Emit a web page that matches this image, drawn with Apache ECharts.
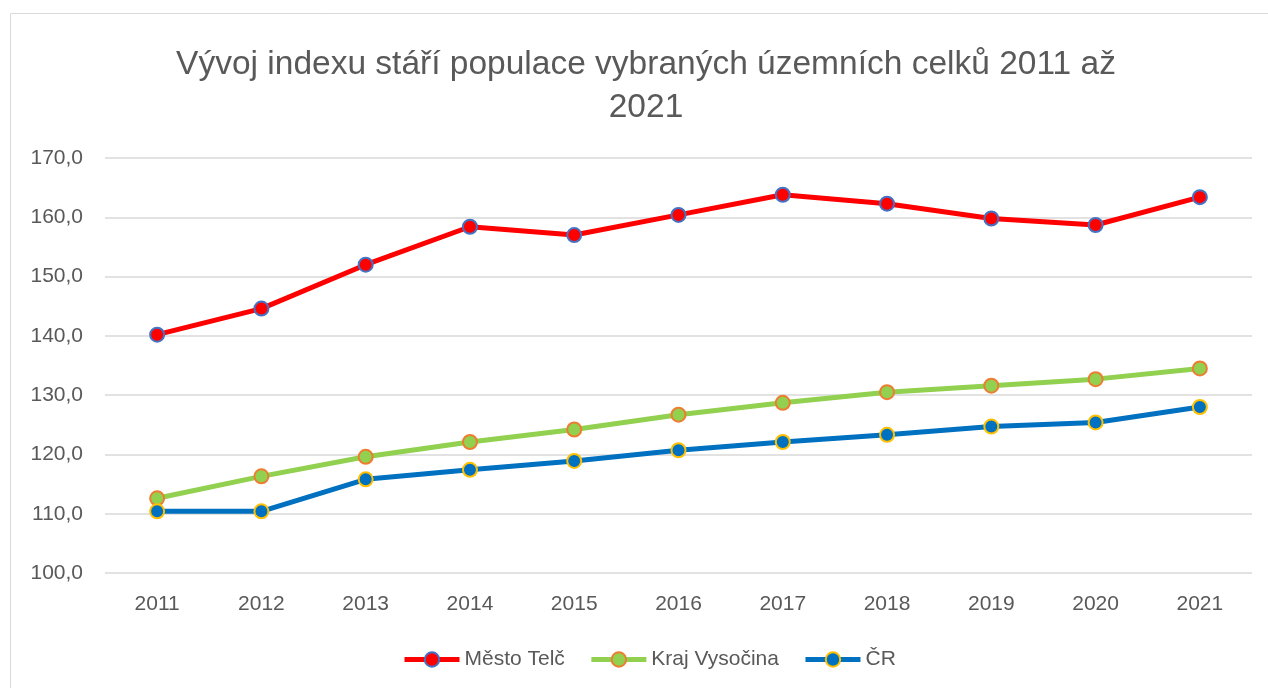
<!DOCTYPE html>
<html>
<head>
<meta charset="utf-8">
<script src="https://cdn.jsdelivr.net/npm/echarts@6/dist/echarts.min.js"></script>
<style>
  html, body { margin: 0; padding: 0; background: #fff; }
  #chart { width: 1268px; height: 688px; }
</style>
</head>
<body>
<div id="chart"></div>
<script>
// 数据：年份与三组指数
const years = ['2011', '2012', '2013', '2014', '2015', '2016', '2017', '2018', '2019', '2020', '2021'];
const mestoTelc = [140.2, 144.6, 152.0, 158.4, 157.0, 160.4, 163.8, 162.3, 159.8, 158.7, 163.4];
const krajVysocina = [112.6, 116.3, 119.6, 122.1, 124.2, 126.7, 128.7, 130.5, 131.6, 132.7, 134.5];
const cr = [110.4, 110.4, 115.8, 117.4, 118.9, 120.7, 122.1, 123.3, 124.7, 125.4, 128.0];

const FONT = 'Liberation Sans';
const TXT = '#595959';

const chart = echarts.init(document.getElementById('chart'));

const mkSeries = (name, data, lineColor, fill, border) => ({
  name,
  type: 'line',
  data,
  symbol: 'circle',
  symbolSize: 14,
  lineStyle: { color: lineColor, width: 5 },
  itemStyle: { color: fill, borderColor: border, borderWidth: 2 },
  z: 3
});

chart.setOption({
  animation: false,
  title: {
    text: 'Vývoj indexu stáří populace vybraných územních celků 2011 až\n2021',
    left: 641,
    textAlign: 'center',
    top: 38,
    textStyle: { fontFamily: FONT, fontSize: 33.5, fontWeight: 'normal', color: TXT, lineHeight: 43 }
  },
  graphic: [{
    type: 'rect',
    shape: { x: 10.5, y: 13.5, width: 1280, height: 700 },
    style: { fill: 'none', stroke: '#D9D9D9', lineWidth: 1 },
    silent: true
  }],
  legend: {
    bottom: 13,
    left: 397,
    itemWidth: 55,
    itemHeight: 18,
    itemGap: 24,
    lineStyle: { width: 5 },
    textStyle: { fontFamily: FONT, fontSize: 21, color: TXT },
    data: ['Město Telč', 'Kraj Vysočina', 'ČR']
  },
  grid: { left: 105, right: 16, top: 158, bottom: 115 },
  xAxis: {
    type: 'category',
    data: years,
    axisLine: { show: false },
    axisTick: { show: false },
    axisLabel: { fontFamily: FONT, fontSize: 21, color: TXT, margin: 21 }
  },
  yAxis: {
    type: 'value',
    min: 100,
    max: 170,
    interval: 10,
    axisLine: { show: false },
    axisTick: { show: false },
    axisLabel: {
      fontFamily: FONT, fontSize: 21, color: TXT, margin: 22,
      formatter: v => v.toFixed(1).replace('.', ',')
    },
    splitLine: { lineStyle: { color: '#D9D9D9', width: 1.5 } }
  },
  series: [
    mkSeries('Město Telč', mestoTelc, '#FF0000', '#FF0000', '#4472C4'),
    mkSeries('Kraj Vysočina', krajVysocina, '#92D050', '#92D050', '#ED7D31'),
    mkSeries('ČR', cr, '#0070C0', '#0070C0', '#FFC000')
  ]
});
</script>
</body>
</html>
